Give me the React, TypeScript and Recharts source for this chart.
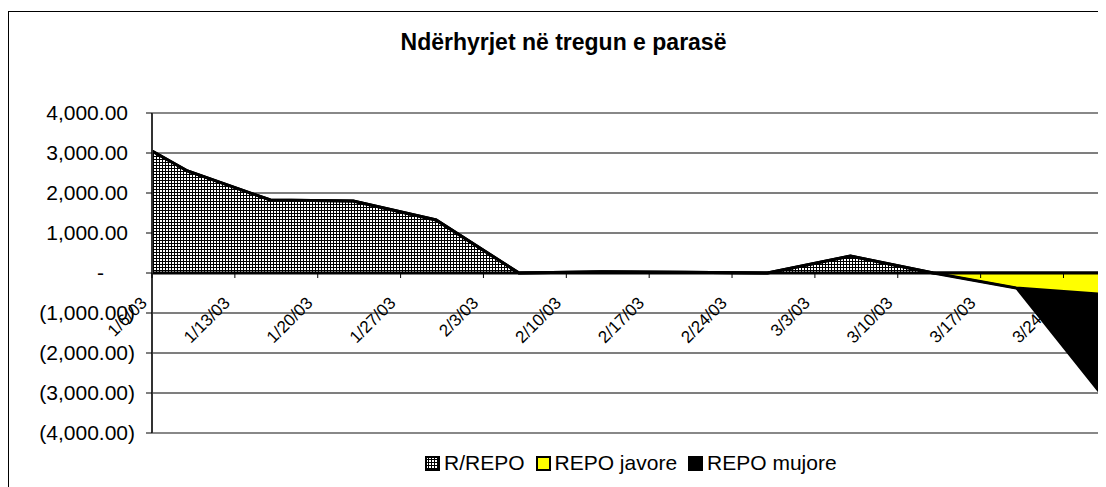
import React from "react";
import {
  AreaChart,
  Area,
  XAxis,
  YAxis,
  CartesianGrid,
  ReferenceLine,
  Legend,
} from "recharts";

// weekly observation dates (m/d/yy)
const DATES = [
  "1/6/03", "1/9/03", "1/16/03", "1/23/03", "1/30/03", "2/6/03", "2/13/03",
  "2/20/03", "2/27/03", "3/6/03", "3/13/03", "3/20/03", "3/27/03",
];
const R_REPO = [3050, 2550, 1825, 1800, 1325, 0, 30, 20, 0, 425, 0, 0, 0];
const REPO_JAVORE = [0, 0, 0, 0, 0, 0, 0, 0, 0, 0, 0, -375, -525];
const REPO_MUJORE = [0, 0, 0, 0, 0, 0, 0, 0, 0, 0, 0, 0, -2450];

const TICK_DATES = [
  "1/6/03", "1/13/03", "1/20/03", "1/27/03", "2/3/03", "2/10/03",
  "2/17/03", "2/24/03", "3/3/03", "3/10/03", "3/17/03", "3/24/03",
];
const Y_TICKS = [4000, 3000, 2000, 1000, 0, -1000, -2000, -3000, -4000];

const TITLE = "Ndërhyrjet në tregun e parasë";
const SERIES_NAMES = ["R/REPO", "REPO javore", "REPO mujore"];

const FONT = "'Liberation Sans', Arial, Helvetica, sans-serif";

const dayOf = (s: string) => {
  const [m, d, y] = s.split("/").map(Number);
  return Date.UTC(2000 + y, m - 1, d) / 86400000;
};
const START = dayOf(DATES[0]);
const END = dayOf(DATES[DATES.length - 1]) - START;

const data = DATES.map((d, i) => ({
  day: dayOf(d) - START,
  rrepo: R_REPO[i],
  javore: REPO_JAVORE[i],
  mujore: REPO_MUJORE[i],
}));
const xTicks = TICK_DATES.map((d) => dayOf(d) - START);

// layout
const W = 1109;
const H = 475;
const TOP = 101;
const BOTTOM = 54;
const Y_AXIS_W = 143;
const Y_MIN = -4000;
const Y_MAX = 4000;
const PLOT_H = H - TOP - BOTTOM;
const ZERO_Y = TOP + (PLOT_H * Y_MAX) / (Y_MAX - Y_MIN);

const fmt = (v: number) => {
  const s = Math.abs(v).toLocaleString("en-US", {
    minimumFractionDigits: 2,
    maximumFractionDigits: 2,
  });
  return v < 0 ? `(${s})` : s;
};

const XTick = (props: any) => {
  const { x, payload } = props;
  const label = TICK_DATES[xTicks.indexOf(payload.value)] ?? "";
  const tx = x - 4;
  const ty = ZERO_Y + 31;
  return (
    <g>
      <line x1={x} x2={x} y1={ZERO_Y} y2={ZERO_Y + 5} stroke="#000" />
      <text
        x={tx}
        y={ty}
        transform={`rotate(-45 ${tx} ${ty})`}
        textAnchor="end"
        fontSize={17}
        fontFamily={FONT}
        fill="#000"
      >
        {label}
      </text>
    </g>
  );
};

const YTick = (props: any) => {
  const { y, payload } = props;
  const v = payload.value;
  let tx = Y_AXIS_W - 24;
  if (v < 0) tx = Y_AXIS_W - 17;
  if (v === 0) tx = Y_AXIS_W - 48;
  return (
    <text
      x={tx}
      y={y}
      dy="0.35em"
      textAnchor="end"
      fontSize={21}
      fontFamily={FONT}
      fill="#000"
    >
      {v === 0 ? "-" : fmt(v)}
    </text>
  );
};

const Swatch = ({ kind }: { kind: number }) => (
  <svg width={15} height={15} style={{ display: "block" }}>
    <defs>
      <pattern id="legGrid" width="3" height="3" patternUnits="userSpaceOnUse">
        <rect width="3" height="3" fill="#000" />
        <rect x="1" y="1" width="2" height="2" fill="#fff" />
      </pattern>
    </defs>
    <rect
      x={1}
      y={1}
      width={13}
      height={13}
      fill={kind === 0 ? "url(#legGrid)" : kind === 1 ? "#ffff00" : "#000"}
      stroke="#000"
      strokeWidth={2}
    />
  </svg>
);

const LegendContent = () => (
  <div style={{ display: "flex", alignItems: "center", fontFamily: FONT, fontSize: 21 }}>
    {SERIES_NAMES.map((n, i) => (
      <div key={n} style={{ display: "flex", alignItems: "center", marginRight: 11 }}>
        <Swatch kind={i} />
        <span style={{ marginLeft: 4, lineHeight: "24px" }}>{n}</span>
      </div>
    ))}
  </div>
);

export default function App() {
  return (
    <div
      style={{
        position: "relative",
        marginTop: 3,
        width: W,
        height: H,
        borderTop: "1px solid #000",
        borderLeft: "1px solid #000",
        background: "#fff",
      }}
    >
      <style>{"html,body{overflow:hidden;background:#fff}"}</style>
      <div
        style={{
          position: "absolute",
          left: 0,
          top: 17,
          width: W,
          textAlign: "center",
          fontFamily: FONT,
          fontWeight: "bold",
          fontSize: 23,
          lineHeight: "26px",
        }}
      >
        {TITLE}
      </div>
      <AreaChart
        width={W}
        height={H}
        data={data}
        margin={{ top: TOP, right: 19, left: 0, bottom: BOTTOM - 1 }}
      >
        <defs>
          <pattern id="rrepoGrid" width="3" height="3" patternUnits="userSpaceOnUse">
            <rect width="3" height="3" fill="#000" />
            <rect x="1" y="1" width="2" height="2" fill="#fff" />
          </pattern>
        </defs>
        <XAxis
          dataKey="day"
          type="number"
          domain={[0, END]}
          ticks={xTicks}
          interval={0}
          height={1}
          axisLine={false}
          tickLine={false}
          tick={<XTick />}
        />
        <YAxis
          type="number"
          domain={[Y_MIN, Y_MAX]}
          ticks={Y_TICKS}
          interval={0}
          width={Y_AXIS_W}
          tickSize={6}
          axisLine={{ stroke: "#333", strokeWidth: 2 }}
          tickLine={{ stroke: "#000" }}
          tick={<YTick />}
        />
        <CartesianGrid vertical={false} stroke="#555" horizontalValues={Y_TICKS} />
        {Y_TICKS.map((v) => (
          <ReferenceLine key={v} y={v} stroke="#555" strokeWidth={1} zIndex={-10} />
        ))}
        <Area
          type="linear"
          dataKey="rrepo"
          name={SERIES_NAMES[0]}
          stackId="s"
          fill="url(#rrepoGrid)"
          fillOpacity={1}
          stroke="#000"
          strokeWidth={3}
          isAnimationActive={false}
        />
        <Area
          type="linear"
          dataKey="javore"
          name={SERIES_NAMES[1]}
          stackId="s"
          fill="#ffff00"
          fillOpacity={1}
          stroke="#000"
          strokeWidth={3}
          isAnimationActive={false}
        />
        <Area
          type="linear"
          dataKey="mujore"
          name={SERIES_NAMES[2]}
          stackId="s"
          fill="#000"
          fillOpacity={1}
          stroke="#000"
          strokeWidth={2}
          isAnimationActive={false}
        />
        <ReferenceLine y={0} stroke="#000" strokeWidth={3} />
        <ReferenceLine y={Y_MAX} stroke="#888" strokeWidth={2} />
        <ReferenceLine y={Y_MIN} stroke="#888" strokeWidth={2} />
        <ReferenceLine x={END} stroke="#888" strokeWidth={2} />
        <Legend
          layout="horizontal"
          verticalAlign="middle"
          align="center"
          content={<LegendContent />}
          wrapperStyle={{ left: 416, top: 439, width: "auto" }}
        />
      </AreaChart>
    </div>
  );
}
